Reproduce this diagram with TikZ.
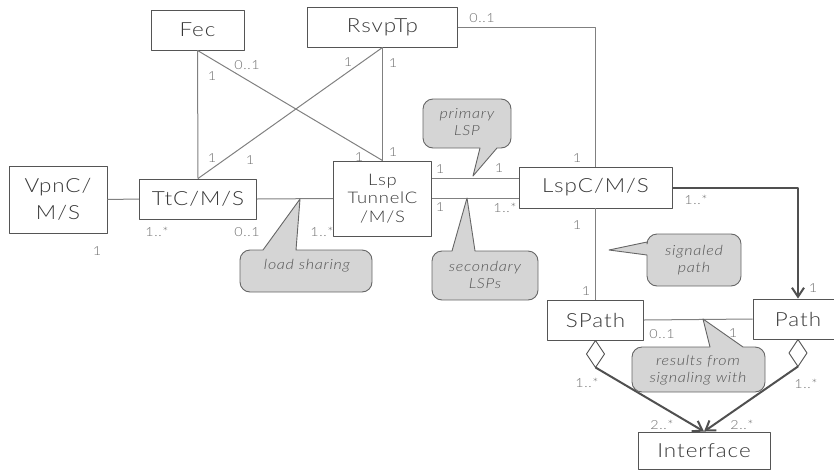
\documentclass[tikz,border=0pt]{standalone}
\usepackage{fontspec}
\setmainfont{Lato}[UprightFont={* Light},ItalicFont={* Light Italic},FakeStretch=1.15,LetterSpace=5]
\usetikzlibrary{arrows.meta}
\definecolor{boxline}{HTML}{555555}
\definecolor{labeltext}{HTML}{383838}
\definecolor{linkgray}{HTML}{808080}
\definecolor{arrowgray}{HTML}{505050}
\definecolor{multgray}{HTML}{6E6E6E}
\definecolor{notefill}{HTML}{D5D5D5}
\definecolor{noteline}{HTML}{666666}
\definecolor{notetext}{HTML}{555555}
\begin{document}
\begin{tikzpicture}[x=1pt,y=-1pt,line join=round,
  >={Straight Barb[length=9pt,width=12pt]},
  cls/.style 2 args={draw=boxline,line width=0.95pt,fill=white,inner sep=0pt,text=labeltext,
    align=center,minimum width=#1pt,minimum height=#2pt,font=\fontsize{19.5}{27}\selectfont},
  assoc/.style={draw=linkgray,line width=1pt},
  navi/.style={draw=arrowgray,line width=2pt,->},
  agg/.style={draw=arrowgray,line width=0.9pt},
  mult/.style={text=multgray,inner sep=0pt,font=\fontsize{12.5}{14}\selectfont},
  note/.style={fill=notefill,draw=noteline,line width=0.9pt},
  notetext/.style={text=notetext,align=center,font=\itshape\fontsize{14}{16.5}\selectfont}]
\useasboundingbox (0,0) rectangle (834,471);

% classes
\node[cls={93}{40}] (fec) at (197.5,30) {Fec};
\node[cls={150}{40}] (rsvp) at (382.5,27) {RsvpTp};
\node[cls={98}{67}] (vpn) at (58,199.5) {VpnC/\\M/S};
\node[cls={117}{40}] (ttc) at (198,199) {TtC/M/S};
\node[cls={98}{75},font=\fontsize{16}{18.5}\selectfont] (lspt) at (382.5,198.5) {Lsp\\TunnelC\\/M/S};
\node[cls={153}{41}] (lspc) at (595.5,187.5) {LspC/M/S};
\node[cls={96}{40}] (spath) at (595.5,320) {SPath};
\node[cls={90}{40}] (path) at (798,319) {Path};
\node[cls={132}{37}] (iface) at (704,450.5) {Interface};

% associations
\draw[assoc] (fec.south) -- (ttc.north);
\draw[assoc] (fec.south) -- (lspt.north);
\draw[assoc] (rsvp.south) -- (lspt.north);
\draw[assoc] (rsvp.south) -- (ttc.north);
\draw[assoc] (vpn.east) -- (ttc.west);
\draw[assoc] (ttc.east) -- (lspt.west);
\draw[assoc] (rsvp.east) -| (lspc.north);
\coordinate (prim) at ([yshift=20.5pt]lspt.east);
\draw[assoc] (prim) -- (prim -| lspc.west);
\draw[assoc] (lspt.east) -- (lspt.east -| lspc.west);
\draw[assoc] (lspc.south) -- (spath.north);
\draw[assoc] (spath.east) -- (path.west);

% navigable ends and aggregations
\draw[navi] (lspc.east) -| (path.north);
\draw[agg] (spath.south) -- ++(9,13.5) -- ++(-9,13.5) coordinate (sdia) -- ++(-9,-13.5) -- cycle;
\draw[agg] (path.south) -- ++(9,13.5) -- ++(-9,13.5) coordinate (pdia) -- ++(-9,-13.5) -- cycle;
\draw[navi] (sdia) -- (iface.north);
\draw[navi] (pdia) -- (iface.north);

% multiplicities
\foreach \x/\y/\m [count=\i] in {212/76/1, 247/65/0..1, 348/62/1, 393/63/1, 212/158/1, 250/160/1,
  359/157/1, 393/152/1, 157/232/1..*, 247/232/0..1, 322/232/1..*, 97/251/1, 482/18/0..1,
  440/169/1, 499/168/1, 577/158/1, 440/207/1, 505/208/1..*, 696/200/1..*, 577/225/1,
  586/291/1, 813/288/1, 662/334/0..1, 733/333/1, 587/383/1..*, 806/384/1..*,
  662/425/2..*, 742/425/2..*}
  \node[mult] (m\i) at (\x,\y) {\m};

% notes
\draw[note] (473,176) -- (480,148) [rounded corners=10pt] -- (423,148) -- (423,99) -- (511,99) -- (511,148) [sharp corners] -- (497,148) -- cycle;
\node[notetext] (nprim) at (467,122) {primary\\LSP};
\draw[note] (300,199) -- (296,250) [rounded corners=10pt] -- (372,250) -- (372,292) -- (240,292) -- (240,250) [sharp corners] -- (263,250) -- cycle;
\node[notetext] (nload) at (307,266) {load sharing};
\draw[note] (467,198) -- (475,251) [rounded corners=10pt] -- (538,251) -- (538,300) -- (432,300) -- (432,251) [sharp corners] -- (452,251) -- cycle;
\node[notetext] (nsec) at (485,275) {secondary\\LSPs};
\draw[note] (609,250) -- (647,255) [rounded corners=10pt] -- (647,286) -- (741,286) -- (741,234) -- (647,234) [sharp corners] -- (647,242) -- cycle;
\node[notetext] (nsig) at (694,260) {signaled\\path};
\draw[note] (703,319) -- (743,347) [rounded corners=10pt] -- (765,347) -- (765,392) -- (632,392) -- (632,347) [sharp corners] -- (710,347) -- cycle;
\node[notetext] (nres) at (698,370) {results from\\signaling with};
\end{tikzpicture}
\end{document}
